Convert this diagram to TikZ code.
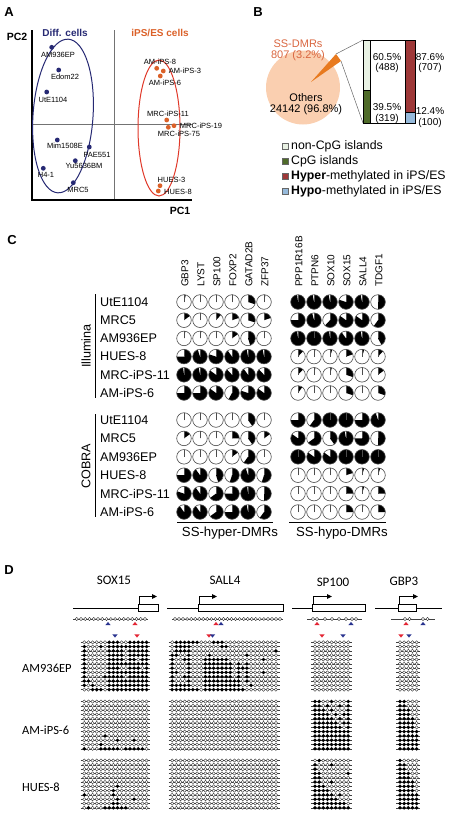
\documentclass[tikz,border=0pt]{standalone}
\usepackage{fontspec}
\setmainfont{Liberation Sans}
\newfontfamily\genefont{Carlito}
\usetikzlibrary{arrows.meta}

\definecolor{diffblue}{rgb}{0.150000, 0.160000, 0.450000}
\definecolor{ipsorange}{rgb}{0.860000, 0.380000, 0.160000}
\definecolor{ellred}{rgb}{0.880000, 0.220000, 0.160000}
\definecolor{piepeach}{rgb}{0.980000, 0.810000, 0.690000}
\definecolor{dmrorange}{rgb}{0.910000, 0.480000, 0.120000}
\definecolor{dmrtext}{rgb}{0.850000, 0.400000, 0.250000}
\definecolor{noncpg}{rgb}{0.910000, 0.945000, 0.890000}
\definecolor{cpggreen}{rgb}{0.310000, 0.420000, 0.160000}
\definecolor{hyperred}{rgb}{0.620000, 0.220000, 0.220000}
\definecolor{hypoblue}{rgb}{0.590000, 0.730000, 0.860000}
\definecolor{trired}{rgb}{0.890000, 0.140000, 0.200000}
\definecolor{triblue}{rgb}{0.160000, 0.200000, 0.560000}

\tikzset{
  panellabel/.style={font=\bfseries\fontsize{13}{13}\selectfont, inner sep=0pt},
  axislabel/.style={font=\bfseries\fontsize{10.5}{11}\selectfont, inner sep=0pt},
  grouplabel/.style={font=\bfseries\fontsize{10}{11}\selectfont, inner sep=0pt},
  pcalabel/.style={font=\fontsize{7.5}{8}\selectfont, inner sep=0pt},
  pietext/.style={font=\fontsize{11}{11}\selectfont, align=center, inner sep=0pt},
  bartext/.style={font=\fontsize{10}{10.5}\selectfont, align=center, inner sep=0pt},
  legtext/.style={font=\fontsize{12.3}{13}\selectfont, anchor=west, inner sep=0pt},
  legbox/.style={draw=black!60, line width=0.4},
  colhead/.style={font=\fontsize{10}{10}\selectfont, rotate=90, anchor=west, inner sep=0pt},
  rowlabel/.style={font=\fontsize{12.6}{13}\selectfont, anchor=west, inner sep=0pt},
  methlabel/.style={font=\fontsize{12.6}{13}\selectfont, rotate=90, inner sep=0pt},
  pieedge/.style={draw=black!70, line width=0.6},
  genename/.style={font=\genefont\fontsize{13}{13}\selectfont, inner sep=0pt},
  samplelabel/.style={font=\genefont\fontsize{12.5}{13}\selectfont, anchor=west, inner sep=0pt},
  geneline/.style={line width=0.9},
  genebox/.style={line width=0.9, fill=white},
  tss/.style={line width=0.9, -{Triangle[length=5pt, width=4.5pt]}},
  cpgline/.style={line width=0.35, black!75},
  cpgopen/.style={draw=black!85, fill=white, line width=0.35},
}

% one small pie of panel C
\newcommand\dmrpie[3]{%
  \fill[white] (#1,#2) circle[radius=7.3];
  \fill[black] (#1,#2) -- ++(270:7.3) arc[start angle=270, end angle={270+360*#3}, radius=7.3] -- cycle;
  \draw[pieedge] (#1,#2) -- ++(270:7.3);
  \draw[pieedge] (#1,#2) circle[radius=7.3];}

% bisulfite clones
\def\cpgstep{4.15}
\def\cpgrowstep{4.3}
\def\cpgwalk#1{%
  \ifx\relax#1%
  \else
    \ifnum#1=1
      \fill[black] (\cpgx,\cpgy) circle[radius=1.9];%
    \else
      \filldraw[cpgopen] (\cpgx,\cpgy) circle[radius=1.65];%
    \fi
    \pgfmathsetmacro\cpgx{\cpgx+\cpgstep}%
    \expandafter\cpgwalk
  \fi}
\newcommand\methgrid[4]{%
  \foreach \pat [count=\r from 0] in {#4} {%
    \pgfmathsetmacro\cpgy{#2+\r*\cpgrowstep}%
    \draw[cpgline] ({#1-3.6},\cpgy) -- ++({(#3-1)*\cpgstep+7.2},0);%
    \def\cpgx{#1}%
    \expandafter\cpgwalk\pat\relax}}
\newcommand\whitegrid[3]{%
  \foreach \r in {0,...,11} {%
    \pgfmathsetmacro\cpgy{#2+\r*\cpgrowstep}%
    \draw[cpgline] ({#1-3.6},\cpgy) -- ++({(#3-1)*\cpgstep+7.2},0);%
    \foreach \c in {1,...,#3} \filldraw[cpgopen] ({#1+(\c-1)*\cpgstep},\cpgy) circle[radius=1.65];}}
\newcommand\siteup[3]{\fill[#3] ({#1-2.6},{#2+1.6}) -- ({#1+2.6},{#2+1.6}) -- (#1,{#2-1.6}) -- cycle;}
\newcommand\sitedown[3]{\fill[#3] ({#1-2.6},{#2-1.6}) -- ({#1+2.6},{#2-1.6}) -- (#1,{#2+1.6}) -- cycle;}

\begin{document}
\begin{tikzpicture}[x=1pt, y=-1pt]
\useasboundingbox (0,0) rectangle (455,814);

% A
\node[panellabel] (labA) at (9,12) {A};
\node[axislabel] (pc2) at (17,37) {PC2};
\node[axislabel] (pc1) at (180,211) {PC1};
\node[grouplabel, text=diffblue] (diffcells) at (65,33) {Diff. cells};
\node[grouplabel, text=ipsorange] (ipscells) at (160,33) {iPS/ES cells};
\draw[black!55, line width=0.5] (114,30) -- (114,200);
\draw[black!55, line width=0.5] (32,124) -- (192,124);
\draw[line width=1.2] (32,30) -- (32,200) -- (192,200);
\draw[diffblue, line width=1] (63,116) ellipse [x radius=30, y radius=77, rotate=-4];
\draw[ellred, line width=1] (159,128) ellipse [x radius=21, y radius=68];
\foreach \px/\py/\lx/\ly/\lab [count=\i] in {51.7/47.3/58/54.5/AM936EP, 58.7/70/65/77/Edom22,
    46.7/92/53/99.5/UtE1104, 57.3/140/65/146/Mim1508E, 89.3/147/97/154.5/PAE551,
    75.3/160.7/84/165.5/Yu5636BM, 43.3/168.3/46/175/H4-1, 73.3/182.7/78/190/MRC5} {
  \node[pcalabel] (dlab\i) at (\lx,\ly) {\lab};
  \fill[diffblue] (\px,\py) circle[radius=2.4];
}
\foreach \px/\py/\lx/\ly/\lab [count=\i] in {156.7/68.3/160/62/AM-iPS-8, 163.3/71/185/71/AM-iPS-3,
    160.3/76/165/83/AM-iPS-6, 166.7/120/168/114/MRC-iPS-11, 174/125.7/201/126/MRC-iPS-19,
    168.3/127.3/179/134/MRC-iPS-75, 160/185.7/171.5/180/HUES-3, 158.3/191/178/192/HUES-8} {
  \node[pcalabel] (ilab\i) at (\lx,\ly) {\lab};
  \fill[ipsorange] (\px,\py) circle[radius=2.4];
}

% B
\node[panellabel] (labB) at (258,12) {B};
\fill[piepeach] (303,87.5) circle[radius=37];
\coordinate (wedgein) at (311,82);
\coordinate (wedgetop) at (336,54);
\coordinate (wedgebot) at (341,61);
\coordinate (barNW) at (363,40);
\coordinate (barSW) at (363,123);
\fill[dmrorange] (wedgein) -- (wedgetop) -- (wedgebot) -- cycle;
\draw[black!60, line width=0.5] (wedgetop) -- (barNW);
\draw[black!60, line width=0.5] (wedgebot) -- (barSW);
\draw[line width=0.6] (barNW) rectangle (405.3,123);
\filldraw[line width=0.6, fill=noncpg] (barNW) rectangle (370.7,90.2);
\filldraw[line width=0.6, fill=cpggreen] (363,90.2) rectangle (370.7,123);
\filldraw[line width=0.6, fill=hyperred] (405.3,40) rectangle (415,112.7);
\filldraw[line width=0.6, fill=hypoblue] (405.3,112.7) rectangle (415,123);
\node[pietext, text=dmrtext] (ssdmr) at (298,50) {SS-DMRs\\807 (3.2\%)};
\node[pietext] (others) at (306,104) {Others\\24142 (96.8\%)};
\node[bartext] (p605) at (387,63) {60.5\%\\(488)};
\node[bartext] (p395) at (387,113.5) {39.5\%\\(319)};
\node[bartext] (p876) at (430,63) {87.6\%\\(707)};
\node[bartext] (p124) at (430,117.5) {12.4\%\\(100)};
\filldraw[legbox, fill=noncpg] (282,143) rectangle ++(6.5,6.5);
\filldraw[legbox, fill=cpggreen] (282,158) rectangle ++(6.5,6.5);
\filldraw[legbox, fill=hyperred] (282,173) rectangle ++(6.5,6.5);
\filldraw[legbox, fill=hypoblue] (282,188) rectangle ++(6.5,6.5);
\node[legtext] (leg1) at (291,146.5) {non-CpG islands};
\node[legtext] (leg2) at (291,161.5) {CpG islands};
\node[legtext] (leg3) at (291,176.5) {\textbf{Hyper}-methylated in iPS/ES};
\node[legtext] (leg4) at (291,191.5) {\textbf{Hypo}-methylated in iPS/ES};

% C
\node[panellabel] (labC) at (12,240) {C};
\foreach \g [count=\i from 0] in {GBP3,LYST,SP100,FOXP2,GATAD2B,ZFP37}
  \node[colhead] (hyh\i) at (185+16*\i,287) {\g};
\foreach \g [count=\i from 0] in {PPP1R16B,PTPN6,SOX10,SOX15,SALL4,TDGF1}
  \node[colhead] (hoh\i) at (299+16*\i,287) {\g};
\foreach \lab [count=\i from 0] in {UtE1104,MRC5,AM936EP,HUES-8,MRC-iPS-11,AM-iPS-6} {
  \node[rowlabel] (il\i) at (100,302+18.2*\i) {\lab};
  \node[rowlabel] (co\i) at (100,420+18.4*\i) {\lab};
}
\draw[line width=0.9] (95,294) -- (95,398);
\draw[line width=0.9] (95,414) -- (95,517);
\node[methlabel] (illum) at (86,346) {Illumina};
\node[methlabel] (cobra) at (86,466) {COBRA};
\foreach \y/\hyper/\hypo in {
    302/{0.04,0.01,0.01,0.02,0.3,0.03}/{0.98,0.97,0.97,0.8,0.97,0.5},
    320.2/{0.15,0.01,0.12,0.2,0.3,0.2}/{0.75,0.96,0.62,0.85,0.85,0.6},
    338.4/{0.03,0.03,0.02,0.15,0.45,0.02}/{0.98,1,0.98,0.9,0.97,0.42},
    356.6/{0.75,0.95,0.8,0.9,0.97,0.97}/{0.12,0.03,0.05,0.2,0.05,0.12},
    374.8/{0.98,0.97,0.85,0.88,0.9,0.88}/{0.12,0.03,0.04,0.3,0.02,0.15},
    393/{0.75,0.75,0.85,0.58,0.8,0.85}/{0.1,0.02,0.02,0.3,0.02,0.3},
    420/{0.01,0.01,0.01,0.01,0.4,0.01}/{0.75,0.6,1,1,0.75,0.95},
    438.4/{0.15,0.01,0.01,0.25,0.4,0.15}/{0.85,0.65,0.4,0.97,0.75,0.5},
    456.8/{0.01,0.01,0.01,0.15,0.6,0.01}/{1,0.85,0.85,1,1,1},
    475.2/{0.75,0.9,0.45,0.55,0.95,0.55}/{0.01,0.01,0.01,0.2,0.05,0.05},
    493.6/{0.8,0.9,0.65,0.75,0.98,0.5}/{0.01,0.01,0.01,0.25,0.05,0.25},
    512/{0.9,0.9,0.65,0.75,0.97,0.6}/{0.01,0.01,0.01,0.25,0.03,0.25}} {
  \foreach \f [count=\i from 0] in \hyper {\dmrpie{184+16*\i}{\y}{\f}}
  \foreach \f [count=\i from 0] in \hypo {\dmrpie{298+16*\i}{\y}{\f}}
}
\draw[line width=1] (177,522) -- (273,522);
\draw[line width=1] (289,522) -- (386,522);
\node[rowlabel, anchor=center, font=\fontsize{13.2}{14}\selectfont] (hyperlab) at (230,533) {SS-hyper-DMRs};
\node[rowlabel, anchor=center, font=\fontsize{13.2}{14}\selectfont] (hypolab) at (342,533) {SS-hypo-DMRs};

% D
\node[panellabel] (labD) at (9,570) {D};
\node[genename] (gsox) at (114,580) {SOX15};
\node[genename] (gsall) at (225,580) {SALL4};
\node[genename] (gsp) at (333,582) {SP100};
\node[genename] (ggbp) at (404,581) {GBP3};
\node[samplelabel] (dam) at (22,668) {AM936EP};
\node[samplelabel] (dips) at (22,730) {AM-iPS-6};
\node[samplelabel] (dhues) at (22,787) {HUES-8};

\draw[geneline] (73,608) -- (138,608);
\draw[genebox] (138,604.7) rectangle (158,611.3);
\draw[tss] (139,604.7) -- (139,596.5) -- (157,596.5);
\draw[cpgline] (73,619) -- (148,619);
\foreach \i in {0,...,16} \filldraw[cpgopen] (76.7+4.27*\i,619) circle[radius=1.6];

\draw[geneline] (167,608) -- (198,608);
\draw[genebox] (198,604.7) rectangle (283,611.3);
\draw[tss] (199,604.7) -- (199,596.5) -- (217,596.5);
\draw[cpgline] (172,619) -- (283,619);
\foreach \i in {0,...,26} \filldraw[cpgopen] (175+4.04*\i,619) circle[radius=1.6];

\draw[geneline] (292,608) -- (312,608);
\draw[genebox] (312,604.7) rectangle (365,611.3);
\draw[tss] (313,604.7) -- (313,596.5) -- (332,596.5);
\draw[cpgline] (307,619) -- (362,619);
\foreach \x in {313,317,325,332,339,346,352,356} \filldraw[cpgopen] (\x,619) circle[radius=1.6];

\draw[geneline] (375,608) -- (442,608);
\draw[genebox] (398,604.7) rectangle (416,611.3);
\draw[tss] (399,604.7) -- (399,596.5) -- (418,596.5);
\draw[cpgline] (391,619) -- (435,619);
\foreach \x in {405,409.5,423,427.5} \filldraw[cpgopen] (\x,619) circle[radius=1.6];

\siteup{108}{623.5}{triblue} \siteup{135}{623.5}{trired}
\sitedown{115}{636}{triblue} \sitedown{137}{636}{trired}
\siteup{216}{623.5}{trired} \siteup{221}{623.5}{triblue}
\sitedown{209}{636}{trired} \sitedown{212.5}{636}{triblue}
\siteup{317}{623.5}{trired} \siteup{351}{623.5}{triblue}
\sitedown{322}{636}{trired} \sitedown{343}{636}{triblue}
\siteup{406}{623.5}{trired} \siteup{423}{623.5}{triblue}
\sitedown{401}{636}{trired} \sitedown{409}{636}{triblue}

% SOX15
\methgrid{84.3}{642.3}{16}{0000001110011111,1000101111111111,1000001111011111,1000001111011111,
  1000001111011011,1000001111111111,1000001110011101,1000001111111111,1000011111011111,
  1100001111111111,1010001111111111,0011101111111111}
\methgrid{84.3}{701.5}{16}{0000000000000000,0000000000000000,0000000000000000,0000000000000000,
  0000000000000000,0000000000000000,0000000000000000,0000000000000000,0000010000000000,
  0000000010001000,0000100000000000,1000111110111110}
\methgrid{84.3}{760.5}{16}{0000000000000000,0000000000000000,0000000000000000,0000000000000000,
  0000000000000000,0000000000000000,0000000010000000,0000000100000000,1000000100000000,
  0000000010001000,0000000110000000,0100011111100000}
% SALL4
\methgrid{172.2}{642.3}{26}{01111110001110000000000000,01111000000011000000000000,
  01111000000000000000000001,11001000010000000010000000,10011000111111000000001000,
  10001000111111101010000000,10001000111111101110000000,11001000111111101010001000,
  10011000111111101010000000,10001000111111111010000000,11111000111111111001000000,
  11111110111111111100000000}
\whitegrid{172.2}{701.5}{26}
\whitegrid{172.2}{760.5}{26}
% SP100
\whitegrid{315}{642.3}{9}
\methgrid{315}{701.5}{9}{110010001,110100101,111010001,111101011,111110101,111111011,
  111111101,111111111,111111111,111111111,111111111,111111111}
\methgrid{315}{760.5}{9}{010000000,100010000,100000000,110000001,110000000,110010000,
  111000000,111100000,111110100,111111000,111111110,111111111}
% GBP3
\whitegrid{400}{642.3}{5}
\methgrid{400}{701.5}{5}{11000,11000,11100,11100,11110,11110,11110,11111,11111,11111,11111,11111}
\methgrid{400}{760.5}{5}{10000,11000,11000,11100,11100,11110,11110,11110,11111,11111,11111,11111}
\end{tikzpicture}
\end{document}
